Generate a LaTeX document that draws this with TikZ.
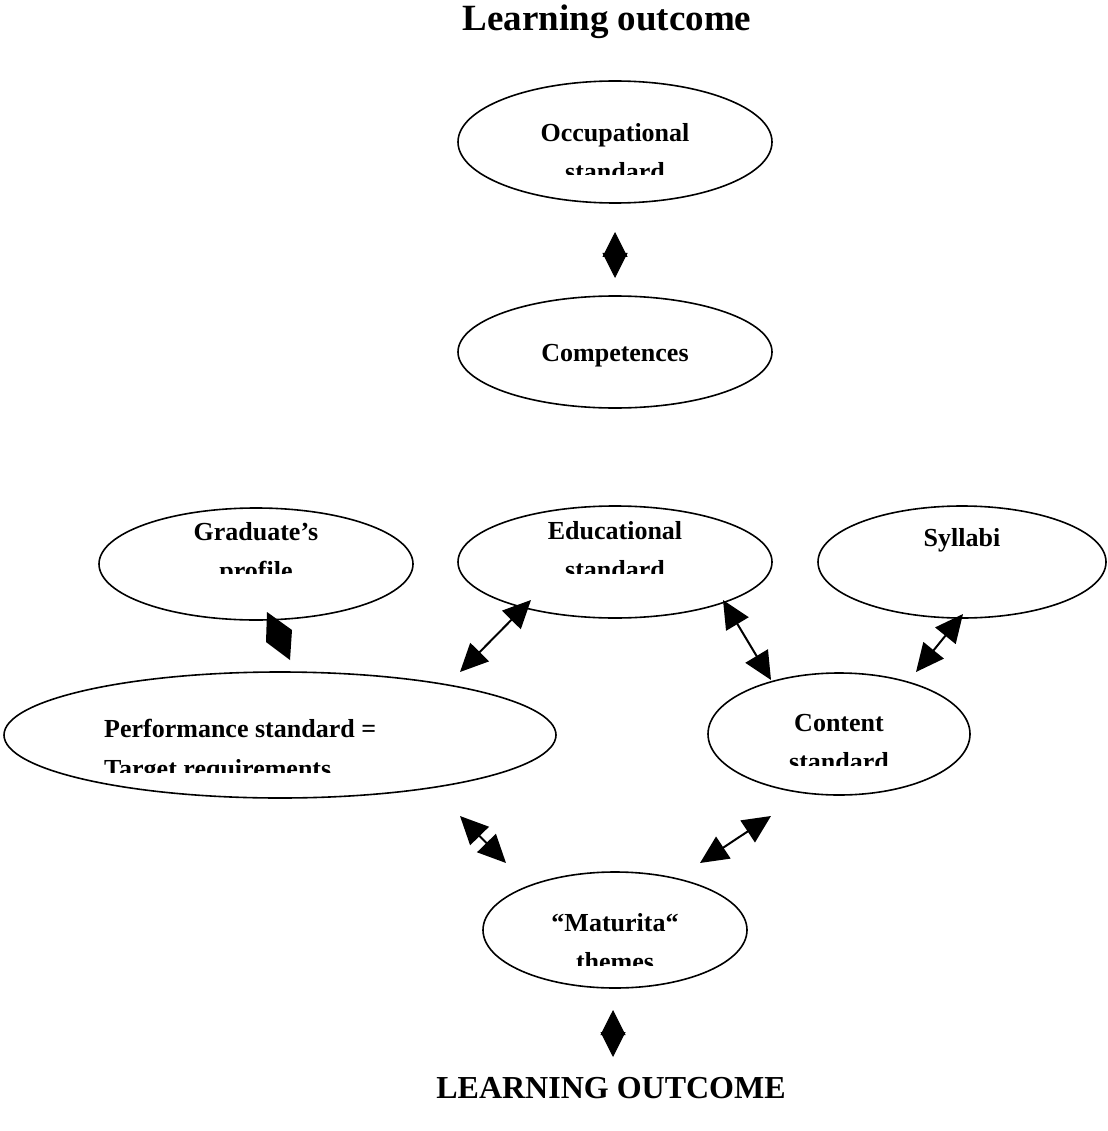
\documentclass[tikz,border=0pt]{standalone}
\usepackage{fontspec}
\setmainfont{Liberation Serif}
\usetikzlibrary{shapes.geometric,arrows.meta}
\begin{document}
\begin{tikzpicture}[x=1pt,y=-1pt,
  oval/.style={ellipse,draw,line width=1.6pt,inner sep=0pt},
  lbl/.style={font=\fontsize{26}{30}\selectfont\bfseries,anchor=base,inner sep=0pt},
  dbl/.style={line width=2pt,{Triangle[length=28pt,width=26pt]}-{Triangle[length=28pt,width=26pt]}},
  shortdbl/.style={line width=1pt,{Triangle[length=25pt,width=25pt]}-{Triangle[length=25pt,width=25pt]}},
  ]
\useasboundingbox (0,0) rectangle (1107,1131);

% headings
\node[font=\fontsize{37}{40}\selectfont\bfseries,anchor=base,inner sep=0pt] (top) at (607,31) {Learning outcome};
\node[font=\fontsize{32}{36}\selectfont\bfseries,anchor=base,inner sep=0pt] (bottom) at (611,1098) {LEARNING OUTCOME};

% ellipses
\node[oval,minimum width=314pt,minimum height=122pt] (occ) at (615,142) {};
\node[oval,minimum width=314pt,minimum height=112pt] (comp) at (615,352) {};
\node[oval,minimum width=314pt,minimum height=112pt] (grad) at (256,564) {};
\node[oval,minimum width=314pt,minimum height=112pt] (edu) at (615,562) {};
\node[oval,minimum width=288pt,minimum height=112pt] (syl) at (962,562) {};
\node[oval,minimum width=552pt,minimum height=126pt] (perf) at (280,735) {};
\node[oval,minimum width=262pt,minimum height=122pt] (cont) at (839,734) {};
\node[oval,minimum width=264pt,minimum height=116pt] (mat) at (615,930) {};

% first lines
\node[lbl] (occt) at (615,142) {Occupational};
\node[lbl] (compt) at (615,361) {Competences};
\node[lbl] (gradt) at (256,540) {Graduate’s};
\node[lbl] (edut) at (615,539) {Educational};
\node[lbl] (sylt) at (962,546) {Syllabi};
\node[lbl,anchor=base west] (perft) at (104,737) {Performance standard =};
\node[lbl] (contt) at (839,731) {Content};
\node[lbl] (matt) at (615,931) {“Maturita“};

% clipped second lines
\begin{scope}
  \clip (400,100) rectangle (800,175);
  \node[lbl] (occt2) at (615,181) {standard};
\end{scope}
\begin{scope}
  \clip (100,500) rectangle (420,573);
  \node[lbl] (gradt2) at (256,579) {profile};
\end{scope}
\begin{scope}
  \clip (460,500) rectangle (780,573);
  \node[lbl] (edut2) at (615,578) {standard};
\end{scope}
\begin{scope}
  \clip (0,700) rectangle (560,772);
  \node[lbl,anchor=base west] (perft2) at (104,777) {Target requirements};
\end{scope}
\begin{scope}
  \clip (700,700) rectangle (980,765);
  \node[lbl] (contt2) at (839,770) {standard};
\end{scope}
\begin{scope}
  \clip (480,900) rectangle (760,965);
  \node[lbl] (matt2) at (615,970) {themes};
\end{scope}

% connector end points
\coordinate (a1s) at (615,232); \coordinate (a1e) at (615,278);
\coordinate (a3s) at (460,672); \coordinate (a3e) at (531,600);
\coordinate (a4s) at (723,600); \coordinate (a4e) at (771,680);
\coordinate (a5s) at (963,614); \coordinate (a5e) at (916,672);
\coordinate (a6s) at (460,816); \coordinate (a6e) at (506,863);
\coordinate (a7s) at (771,816); \coordinate (a7e) at (700,863);
\coordinate (a8s) at (613,1010); \coordinate (a8e) at (613,1057);
\coordinate (p1) at (267,612); \coordinate (p2) at (292,630);
\coordinate (p3) at (290,660); \coordinate (p4) at (266,642);

\draw[shortdbl] (a1s) -- (a1e);
\draw[dbl] (a3s) -- (a3e);
\draw[dbl] (a4s) -- (a4e);
\draw[dbl] (a5s) -- (a5e);
\draw[dbl] (a6s) -- (a6e);
\draw[dbl] (a7s) -- (a7e);
\draw[shortdbl] (a8s) -- (a8e);
\fill (p1) -- (p2) -- (p3) -- (p4) -- cycle;
\end{tikzpicture}
\end{document}
